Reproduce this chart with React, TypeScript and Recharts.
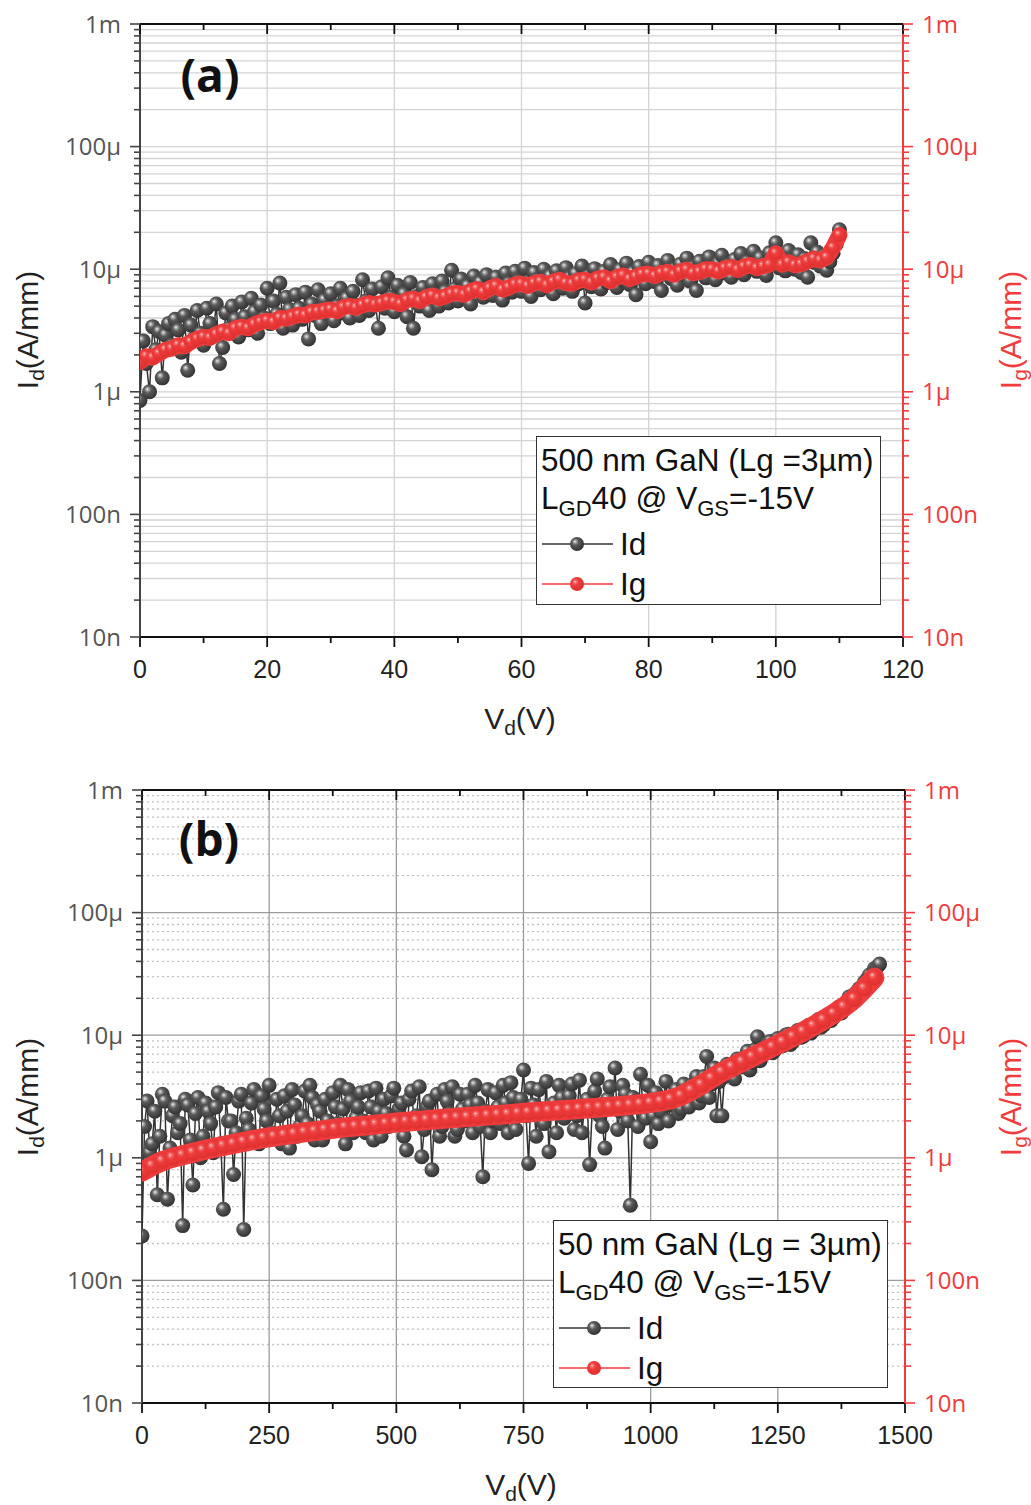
import React from 'react';
import { ComposedChart, Scatter, XAxis, YAxis, CartesianGrid } from 'recharts';

// (a) 500 nm GaN — Id read every 0.5 V from 0 to 110 V (µA/mm)
const idA = [
  0.85, 2.6, 1.7, 1.0, 3.4, 2.2, 3.1, 1.3, 2.9, 3.6,
  2.4, 3.9, 3.2, 2.1, 4.2, 1.5, 3.5, 2.7, 4.6, 3.0,
  2.4, 4.8, 3.6, 2.9, 5.2, 1.7, 2.3, 4.4, 3.3, 5.0,
  3.9, 2.8, 5.4, 4.1, 3.2, 5.8, 4.5, 3.0, 5.1, 4.0,
  7.0, 3.6, 5.5, 4.3, 7.7, 3.3, 5.9, 4.7, 3.5, 6.2,
  4.8, 3.9, 6.5, 2.7, 5.2, 4.2, 6.8, 3.6, 5.6, 4.5,
  6.3, 3.8, 5.0, 7.0, 4.4, 5.8, 4.0, 6.6, 5.1, 4.2,
  8.2, 5.5, 4.6, 6.9, 5.3, 3.3, 7.2, 4.8, 8.5, 5.9,
  4.5, 7.4, 5.2, 6.3, 4.1, 7.8, 3.3, 6.0, 5.0, 7.1,
  5.6, 4.6, 7.6, 6.2, 5.0, 8.0, 6.6, 5.3, 9.8, 6.9,
  5.5, 8.3, 6.4, 7.3, 5.2, 8.8, 6.7, 7.8, 5.9, 9.0,
  7.0, 6.1, 8.6, 7.4, 5.6, 9.3, 7.7, 6.5, 9.6, 8.0,
  6.6, 10.2, 7.9, 6.0, 9.4, 8.2, 6.8, 10.0, 7.4, 8.8,
  6.3, 9.7, 8.0, 7.0, 10.3, 8.5, 6.6, 9.2, 7.6, 10.6,
  5.3, 8.8, 7.2, 10.1, 8.3, 6.9, 9.6, 7.8, 10.9, 8.5,
  7.1, 9.9, 8.1, 11.2, 7.5, 9.4, 6.2, 10.5, 8.7, 7.6,
  11.4, 9.0, 7.9, 10.7, 6.7, 9.5, 11.8, 8.4, 10.0, 7.4,
  11.0, 9.2, 12.3, 8.0, 10.4, 6.7, 11.6, 9.6, 8.5, 12.6,
  9.9, 8.2, 11.3, 13.0, 9.3, 10.8, 8.6, 12.0, 10.1, 13.4,
  9.0, 11.5, 10.4, 14.0, 9.6, 12.4, 10.9, 8.9, 13.6, 11.0,
  16.4, 10.3, 12.8, 9.7, 14.2, 11.6, 10.0, 13.1, 9.4, 12.2,
  8.6, 16.4, 11.4, 13.8, 10.6, 12.9, 9.8, 11.5, 13.5, 16.0,
  21.0,
];

// (a) Ig read every 1 V from 0 to 110 V (µA/mm)
const igA = [
  1.75, 1.95, 1.9, 2.05, 2.2, 2.25, 2.4, 2.35, 2.55, 2.7,
  2.8, 2.75, 2.95, 3.1, 3.0, 3.3, 3.4, 3.3, 3.55, 3.7,
  3.8, 3.7, 4.0, 3.95, 4.1, 4.25, 4.2, 4.45, 4.5, 4.6,
  4.7, 4.55, 4.9, 5.0, 4.85, 5.1, 5.3, 5.15, 5.3, 5.5,
  5.4, 5.2, 5.6, 5.75, 5.5, 5.9, 6.1, 5.8, 6.0, 6.3,
  6.4, 6.2, 6.6, 6.9, 6.5, 7.0, 7.3, 6.8, 7.1, 7.5,
  7.6, 7.3, 7.7, 7.9, 7.4, 7.9, 8.2, 7.7, 7.6, 8.1,
  8.2, 7.8, 8.4, 8.6, 8.0, 8.6, 8.9, 8.3, 8.7, 9.1,
  9.2, 8.8, 9.3, 9.5, 9.0, 9.6, 9.9, 9.3, 9.5, 10.0,
  10.0, 9.6, 10.2, 10.4, 9.9, 10.5, 10.8, 10.2, 10.6, 10.9,
  13.5, 10.9, 11.4, 10.8, 11.0, 11.6, 12.2, 11.8, 12.5, 15.0, 19.0,
];

// (b) 50 nm GaN — Id read at V = 0, 10, 20 … 1450 (µA/mm)
const idB0 = [
  0.23, 2.9, 1.3, 0.5, 3.3, 0.46, 2.2, 1.6, 0.28, 2.7,
  0.6, 3.1, 1.5, 2.4, 1.1, 3.4, 0.38, 2.0, 0.73, 2.9,
  0.26, 1.7, 3.6, 1.3, 2.5, 3.9, 1.5, 2.2, 3.2, 1.2,
  2.7, 1.8, 3.5, 3.9, 1.4, 2.4, 3.0, 1.7, 2.6, 3.9,
  1.3, 2.9, 2.1, 3.4, 1.6, 2.6, 3.7, 1.5, 2.3, 3.2,
  1.9, 2.8, 1.16, 3.5, 2.2, 1.02, 2.6, 0.8, 3.3, 1.8,
  2.9, 3.8, 1.7, 2.5, 3.3, 1.6, 2.8, 0.7, 3.6, 2.0,
  2.6, 3.9, 1.6, 3.1, 2.3, 5.2, 0.9, 2.7, 3.6, 1.9,
  1.12, 2.8, 3.9, 2.1, 3.2, 1.7, 4.3, 2.6, 0.88, 3.5,
  2.2, 1.2, 3.8, 5.4, 2.4, 3.3, 0.41, 2.9, 4.8, 2.1,
  1.35, 3.4, 2.4, 4.2, 2.7, 3.6, 2.5, 3.2, 3.9, 4.6,
  3.2, 6.7, 4.0, 2.2, 2.2, 5.8, 4.9, 6.4, 5.5, 7.4,
  6.0, 9.7, 6.8, 8.6, 7.2, 9.4, 8.2, 10.2, 8.9, 11.0,
  9.8, 12.0, 11.0, 13.4, 12.1, 14.8, 14.0, 17.0, 17.5, 20.5,
  21.5, 24.0, 27.0, 31.0, 35.0, 38.0,
];

// (b) Id read at V = 5, 15, 25 … 1445 (µA/mm)
const idB5 = [
  1.8, 1.1, 2.4, 1.5, 2.9, 1.2, 2.6, 1.9, 3.0, 1.4,
  2.3, 1.0, 2.8, 1.9, 2.6, 1.3, 3.1, 2.0, 1.6, 3.3,
  2.1, 2.8, 1.4, 3.2, 2.0, 1.6, 3.0, 1.3, 2.4, 3.6,
  1.5, 2.2, 1.9, 3.1, 2.7, 1.4, 2.0, 3.4, 1.9, 2.5,
  3.6, 1.6, 2.6, 2.0, 3.5, 1.4, 2.4, 3.0, 1.8, 3.7,
  2.5, 1.5, 3.0, 2.0, 3.8, 1.7, 2.9, 2.1, 1.5, 3.6,
  2.3, 1.5, 3.3, 2.0, 2.7, 3.9, 1.8, 2.4, 1.6, 3.4,
  1.9, 2.8, 4.1, 1.7, 3.0, 2.2, 3.7, 1.5, 2.5, 4.2,
  2.4, 1.6, 3.1, 2.7, 4.0, 2.2, 1.6, 3.0, 2.4, 4.4,
  1.8, 3.0, 2.6, 1.7, 3.9, 2.0, 3.1, 1.8, 2.6, 3.9,
  2.2, 1.9, 3.0, 2.0, 3.2, 2.3, 4.0, 2.6, 3.4, 2.8,
  4.6, 3.1, 5.4, 4.2, 4.6, 5.1, 4.4, 5.9, 6.6, 5.2,
  7.6, 6.2, 7.7, 8.9, 7.6, 8.5, 10.0, 8.4, 10.5, 9.6,
  11.2, 10.4, 12.4, 11.6, 13.6, 13.2, 15.6, 15.2, 18.6, 18.0,
  22.5, 23.0, 28.5, 30.0, 36.0,
];

// (b) Ig read every 20 V from 0 to 1440 V (µA/mm)
const igB = [
  0.77, 0.86, 0.94, 1.0, 1.05, 1.1, 1.15, 1.2, 1.25, 1.3,
  1.35, 1.4, 1.45, 1.49, 1.53, 1.57, 1.61, 1.65, 1.69, 1.73,
  1.77, 1.8, 1.83, 1.87, 1.9, 1.94, 1.97, 2.0, 2.03, 2.06,
  2.09, 2.12, 2.15, 2.18, 2.21, 2.24, 2.27, 2.31, 2.34, 2.38,
  2.41, 2.44, 2.47, 2.5, 2.54, 2.57, 2.61, 2.65, 2.69, 2.74,
  2.8, 2.88, 3.0, 3.2, 3.55, 3.95, 4.45, 5.0, 5.5, 6.05,
  6.65, 7.3, 8.0, 8.8, 9.7, 10.7, 11.9, 13.3, 15.0, 17.0, 19.8, 24.0,
  29.5,
];

const yTickLabels = ['10n', '100n', '1µ', '10µ', '100µ', '1m'];
const xMajorA = [0, 20, 40, 60, 80, 100, 120];
const xMajorB = [0, 250, 500, 750, 1000, 1250, 1500];

const RED = '#f03c3c';

function isDecade(v: number) {
  const l = Math.log10(v);
  return Math.abs(l - Math.round(l)) < 1e-6;
}

const sweep = (vals: number[], v0: number, step: number) =>
  vals.map((u, k) => ({ v: v0 + k * step, i: u * 1e-6 }));

const idAData = sweep(idA, 0, 0.5);
const igAData = sweep(igA, 0, 1);
const idBData = idB0.flatMap((u, k) =>
  k < idB5.length
    ? [{ v: k * 10, i: u * 1e-6 }, { v: k * 10 + 5, i: idB5[k] * 1e-6 }]
    : [{ v: k * 10, i: u * 1e-6 }]
);
const igBData = sweep(igB, 0, 20);

// log axis ticks: decades plus 2..9 minors
const yTicks: number[] = [];
for (let e = -8; e < -3; e++) for (let k = 1; k < 10; k++) yTicks.push(k * Math.pow(10, e));
yTicks.push(1e-3);
const yMajors = yTicks.filter(isDecade);
const yMinors = yTicks.filter((t) => !isDecade(t));

const withMinors = (majors: number[]) =>
  majors.flatMap((m, k) => (k < majors.length - 1 ? [m, (m + majors[k + 1]) / 2] : [m]));

const yFont = { fontFamily: '"Open Sans", sans-serif', fontSize: 24 };
const xFont = { fontFamily: '"Liberation Sans", Arial, sans-serif', fontSize: 25 };

const leftTick = (p: any) => {
  const v = p.payload.value;
  const major = isDecade(v);
  return (
    <g>
      <line x1={p.x} x2={p.x - (major ? 10 : 6)} y1={p.y} y2={p.y} stroke="#444" strokeWidth={1.6} />
      {major && (
        <text x={p.x - 19} y={p.y} dy="0.36em" textAnchor="end" fill="#555" style={yFont}>
          {yTickLabels[Math.round(Math.log10(v)) + 8]}
        </text>
      )}
    </g>
  );
};

const rightTick = (p: any) => {
  const v = p.payload.value;
  const major = isDecade(v);
  return (
    <g>
      <line x1={p.x} x2={p.x + (major ? 10 : 6)} y1={p.y} y2={p.y} stroke={RED} strokeWidth={1.6} />
      {major && (
        <text x={p.x + 19} y={p.y} dy="0.36em" textAnchor="start" fill={RED} style={yFont}>
          {yTickLabels[Math.round(Math.log10(v)) + 8]}
        </text>
      )}
    </g>
  );
};

const bottomTick = (majors: number[]) => (p: any) => {
  const v = p.payload.value;
  const major = majors.includes(v);
  return (
    <g>
      <line x1={p.x} x2={p.x} y1={p.y} y2={p.y + (major ? 10 : 6)} stroke="#111" strokeWidth={1.8} />
      {major && (
        <text x={p.x} y={p.y + 41} textAnchor="middle" fill="#222" style={xFont}>
          {v}
        </text>
      )}
    </g>
  );
};

const topTick = (majors: number[]) => (p: any) => {
  const major = majors.includes(p.payload.value);
  return <line x1={p.x} x2={p.x} y1={p.y} y2={p.y + (major ? 10 : 6)} stroke="#111" strokeWidth={1.8} />;
};

const sphere = (grad: string, r: number) => (p: any) =>
  <circle cx={p.cx} cy={p.cy} r={r} fill={`url(#${grad})`} />;

type PanelProps = {
  top: number;
  plotLeft: number;
  plotRight: number;
  xMajors: number[];
  idData: { v: number; i: number }[];
  igData: { v: number; i: number }[];
  dotR: number;
  igR: number;
  igWidth: number;
  dotted: boolean;
};

function Panel({ top, plotLeft, plotRight, xMajors, idData, igData, dotR, igR, igWidth, dotted }: PanelProps) {
  const xMax = xMajors[xMajors.length - 1];
  const xTicks = withMinors(xMajors);
  const vGrid = xMajors.slice(1, -1);
  return (
    <div style={{ position: 'absolute', left: 0, top, width: 1031, height: 760 }}>
      <ComposedChart
        width={1031}
        height={760}
        margin={{ top: 14, right: 1031 - plotRight - 60, bottom: 93, left: plotLeft - 60 }}
      >
        {!dotted && (
          <CartesianGrid horizontalValues={yTicks} verticalValues={vGrid} stroke="#d4d4d4" strokeWidth={1.3} />
        )}
        {dotted && (
          <CartesianGrid vertical={false} horizontalValues={yMinors} stroke="#c2c2c2" strokeWidth={1.3} strokeDasharray="2 3" />
        )}
        {dotted && (
          <CartesianGrid horizontalValues={yMajors} verticalValues={vGrid} stroke="#9c9c9c" strokeWidth={1.3} />
        )}
        <XAxis
          dataKey="v"
          type="number"
          domain={[0, xMax]}
          ticks={xTicks}
          interval={0}
          tickSize={0}
          tickMargin={0}
          tickLine={false}
          axisLine={{ stroke: '#111', strokeWidth: 2 }}
          tick={bottomTick(xMajors)}
          height={30}
          allowDataOverflow
        />
        <XAxis
          xAxisId="t"
          orientation="top"
          dataKey="v"
          type="number"
          domain={[0, xMax]}
          ticks={xTicks}
          interval={0}
          tickSize={0}
          tickMargin={0}
          tickLine={false}
          axisLine={{ stroke: '#111', strokeWidth: 2 }}
          tick={topTick(xMajors)}
          height={10}
          allowDataOverflow
        />
        <YAxis
          dataKey="i"
          type="number"
          scale="log"
          domain={[1e-8, 1e-3]}
          ticks={yTicks}
          interval={0}
          tickSize={0}
          tickMargin={0}
          tickLine={false}
          axisLine={{ stroke: '#444', strokeWidth: 2 }}
          tick={leftTick}
          width={60}
          allowDataOverflow
        />
        <YAxis
          yAxisId="r"
          orientation="right"
          dataKey="i"
          type="number"
          scale="log"
          domain={[1e-8, 1e-3]}
          ticks={yTicks}
          interval={0}
          tickSize={0}
          tickMargin={0}
          tickLine={false}
          axisLine={{ stroke: RED, strokeWidth: 2 }}
          tick={rightTick}
          width={60}
          allowDataOverflow
        />
        <Scatter
          name="Id"
          data={idData}
          fill="#444"
          shape={sphere('gSph', dotR)}
          line={{ stroke: '#333', strokeWidth: 1.5 }}
          isAnimationActive={false}
        />
        <Scatter
          name="Ig"
          data={igData}
          xAxisId="t"
          yAxisId="r"
          fill={RED}
          shape={sphere('rSph', igR)}
          line={{ stroke: '#ee3b3b', strokeWidth: igWidth, strokeLinejoin: 'round', strokeLinecap: 'round' }}
          isAnimationActive={false}
        />
      </ComposedChart>
    </div>
  );
}

const subStyle: React.CSSProperties = { fontSize: '0.7em', verticalAlign: '-0.3em', lineHeight: 0 };
const titleFont: React.CSSProperties = { fontFamily: '"Liberation Sans", Arial, sans-serif', fontSize: 30, color: '#222' };

function At({ x, y, rotate, style, children }: any) {
  return (
    <div
      style={{
        position: 'absolute',
        left: x,
        top: y,
        transform: `translate(-50%, -50%)${rotate ? ' rotate(-90deg)' : ''}`,
        whiteSpace: 'nowrap',
        lineHeight: 1,
        ...style,
      }}
    >
      {children}
    </div>
  );
}

function LegendRow({ top, label, grad, color }: any) {
  return (
    <div style={{ position: 'absolute', left: 4, top: top - 20, height: 40, display: 'flex', alignItems: 'center' }}>
      <svg width={74} height={40}>
        <line x1={1} x2={72} y1={20} y2={20} stroke={color} strokeWidth={1.5} />
        <circle cx={36} cy={20} r={7} fill={`url(#${grad})`} />
      </svg>
      <span style={{ marginLeft: 5, lineHeight: '40px' }}>{label}</span>
    </div>
  );
}

function LegendBox({ x, y, w, h, title }: any) {
  return (
    <div
      style={{
        position: 'absolute',
        left: x,
        top: y,
        width: w,
        height: h,
        border: '1.5px solid #333',
        background: '#fff',
        boxSizing: 'border-box',
        fontFamily: '"Liberation Sans", Arial, sans-serif',
        fontSize: 31.5,
        color: '#111',
      }}
    >
      <div style={{ position: 'absolute', left: 4, top: 4, lineHeight: '38px', whiteSpace: 'nowrap' }}>{title}</div>
      <div style={{ position: 'absolute', left: 4, top: 42, lineHeight: '38px', whiteSpace: 'nowrap' }}>
        L<sub style={subStyle}>GD</sub>40 @ V<sub style={subStyle}>GS</sub>=-15V
      </div>
      <LegendRow top={107} label="Id" grad="gSph" color="#333" />
      <LegendRow top={147} label="Ig" grad="rSph" color={RED} />
    </div>
  );
}

export default function App() {
  const letter: React.CSSProperties = { fontFamily: '"Open Sans", sans-serif', fontWeight: 700, fontSize: 46, color: '#111' };
  return (
    <div style={{ position: 'absolute', left: 0, top: 0, width: 1031, height: 1505, background: '#fff', overflow: 'hidden' }}>
      <svg width={0} height={0} style={{ position: 'absolute' }}>
        <defs>
          <radialGradient id="gSph" cx="42%" cy="40%" r="60%" fx="35%" fy="32%">
            <stop offset="0%" stopColor="#f4f4f4" />
            <stop offset="14%" stopColor="#b0b0b0" />
            <stop offset="40%" stopColor="#5a5a5a" />
            <stop offset="100%" stopColor="#323232" />
          </radialGradient>
          <radialGradient id="rSph" cx="42%" cy="40%" r="60%" fx="35%" fy="32%">
            <stop offset="0%" stopColor="#ffd6d6" />
            <stop offset="14%" stopColor="#f47878" />
            <stop offset="40%" stopColor="#ee3b3b" />
            <stop offset="100%" stopColor="#de3030" />
          </radialGradient>
        </defs>
      </svg>

      <Panel top={0} plotLeft={140} plotRight={903} xMajors={xMajorA} idData={idAData} igData={igAData} dotR={7.5} igR={7} igWidth={16} dotted={false} />
      <Panel top={766} plotLeft={142} plotRight={905} xMajors={xMajorB} idData={idBData} igData={igBData} dotR={7.5} igR={8} igWidth={20} dotted={true} />

      <At x={210} y={74} style={letter}>(a)</At>
      <At x={209} y={838} style={letter}>(b)</At>

      <At x={28} y={330} rotate style={titleFont}>I<sub style={subStyle}>d</sub>(A/mm)</At>
      <At x={1011} y={330} rotate style={{ ...titleFont, color: RED }}>I<sub style={subStyle}>g</sub>(A/mm)</At>
      <At x={520} y={719} style={titleFont}>V<sub style={subStyle}>d</sub>(V)</At>

      <At x={28} y={1097} rotate style={titleFont}>I<sub style={subStyle}>d</sub>(A/mm)</At>
      <At x={1011} y={1097} rotate style={{ ...titleFont, color: RED }}>I<sub style={subStyle}>g</sub>(A/mm)</At>
      <At x={521} y={1485} style={titleFont}>V<sub style={subStyle}>d</sub>(V)</At>

      <LegendBox x={536} y={436} w={345} h={169} title="500 nm GaN (Lg =3µm)" />
      <LegendBox x={553} y={1220} w={335} h={168} title="50 nm GaN (Lg = 3µm)" />
    </div>
  );
}
